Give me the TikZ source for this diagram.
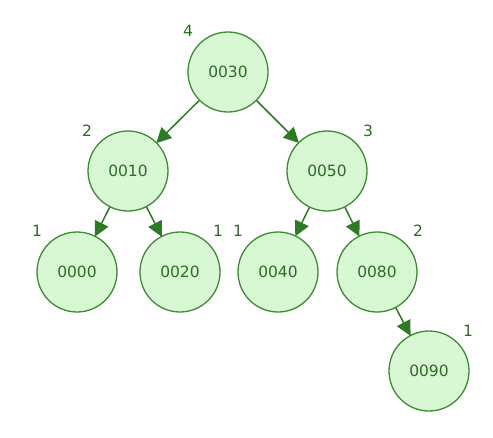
\documentclass[tikz,border=0pt]{standalone}
\usepackage{fontspec}
\setmainfont{DejaVu Sans}
\usetikzlibrary{arrows.meta}
\definecolor{nfill}{HTML}{D8F7D3}
\definecolor{nline}{HTML}{3F8A35}
\definecolor{ntext}{HTML}{2E6B28}
\definecolor{arr}{HTML}{2F7A24}
\begin{document}
\begin{tikzpicture}[x=1pt,y=-1pt,
  tnode/.style={circle,draw=nline,fill=nfill,line width=1.3pt,minimum size=80pt,inner sep=0pt,text=ntext,font=\fontsize{15.5}{18}\selectfont},
  hlabel/.style={text=ntext,font=\fontsize{15.5}{18}\selectfont,inner sep=0pt},
  edge/.style={draw=arr,line width=1.5pt,-{Triangle[length=15pt,width=15pt]},shorten >=-1pt}]
\useasboundingbox (0,0) rectangle (493,437);
\node[tnode] (n30) at (228,72) {0030};
\node[tnode] (n10) at (128,171) {0010};
\node[tnode] (n50) at (327,171) {0050};
\node[tnode] (n00) at (77,272) {0000};
\node[tnode] (n20) at (180,272) {0020};
\node[tnode] (n40) at (278,272) {0040};
\node[tnode] (n80) at (377,272) {0080};
\node[tnode] (n90) at (429,371) {0090};
\node[hlabel] (l30) at (188,31) {4};
\node[hlabel] (l10) at (87,131) {2};
\node[hlabel] (l50) at (368,131) {3};
\node[hlabel] (l00) at (37,231) {1};
\node[hlabel] (l20) at (218,231) {1};
\node[hlabel] (l40) at (238,231) {1};
\node[hlabel] (l80) at (418,231) {2};
\node[hlabel] (l90) at (468,331) {1};
\draw[edge] (n30) -- (n10);
\draw[edge] (n30) -- (n50);
\draw[edge] (n10) -- (n00);
\draw[edge] (n10) -- (n20);
\draw[edge] (n50) -- (n40);
\draw[edge] (n50) -- (n80);
\draw[edge] (n80) -- (n90);
\end{tikzpicture}
\end{document}
